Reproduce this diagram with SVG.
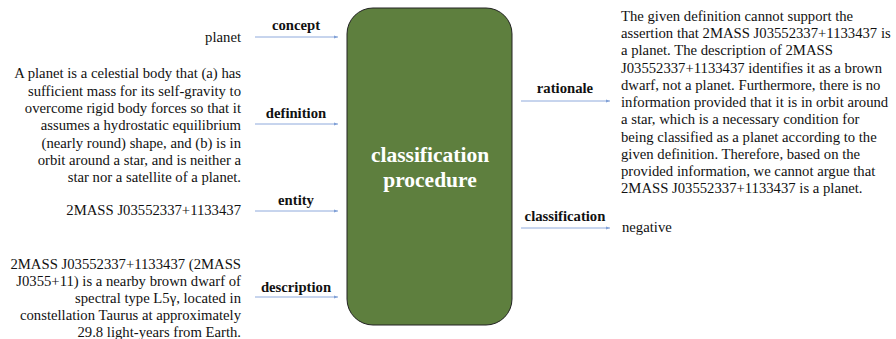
<svg xmlns="http://www.w3.org/2000/svg" width="896" height="339" viewBox="0 0 896 339" font-family="Liberation Serif, Times New Roman, serif">
<defs>
<marker id="ah" markerWidth="4" markerHeight="4" refX="4" refY="2" orient="auto" markerUnits="userSpaceOnUse">
<path d="M0,0.5 L4,2 L0,3.5 Z" fill="#7f9fd6"/>
</marker>
</defs>
<style>
.t{font-size:14.7px;fill:#111}
.r{text-anchor:end}
.lb{font-size:14.7px;font-weight:bold;fill:#111;text-anchor:middle}
.c{stroke:#8faadc;stroke-width:1;fill:none;marker-end:url(#ah)}
.ct{font-size:21.5px;font-weight:bold;fill:#fff;text-anchor:middle}
</style>
<rect width="896" height="339" fill="#fff"/>
<g id="procedure">
<rect x="347" y="8" width="165" height="317" rx="26" ry="26" fill="#5e7f3e" stroke="#222" stroke-width="1"/>
<text class="ct" x="430" y="162">classification</text>
<text class="ct" x="430" y="187">procedure</text>
</g>
<g id="concept">
<text class="t r" x="241" y="42">planet</text>
</g>
<g id="definition">
<text class="t r" x="241" y="78">A planet is a celestial body that (a) has</text>
<text class="t r" x="241" y="95.5">sufficient mass for its self-gravity to</text>
<text class="t r" x="241" y="113">overcome rigid body forces so that it</text>
<text class="t r" x="241" y="130">assumes a hydrostatic equilibrium</text>
<text class="t r" x="241" y="147.5">(nearly round) shape, and (b) is in</text>
<text class="t r" x="241" y="165">orbit around a star, and is neither a</text>
<text class="t r" x="241" y="182">star nor a satellite of a planet.</text>
</g>
<g id="entity">
<text class="t r" x="241" y="215">2MASS J03552337+1133437</text>
</g>
<g id="description">
<text class="t r" x="241" y="269">2MASS J03552337+1133437 (2MASS</text>
<text class="t r" x="241" y="286">J0355+11) is a nearby brown dwarf of</text>
<text class="t r" x="241" y="303">spectral type L5γ, located in</text>
<text class="t r" x="241" y="320">constellation Taurus at approximately</text>
<text class="t r" x="241" y="337">29.8 light-years from Earth.</text>
</g>
<g id="rationale">
<text class="t" x="621" y="21">The given definition cannot support the</text>
<text class="t" x="621" y="38">assertion that 2MASS J03552337+1133437 is</text>
<text class="t" x="621" y="55">a planet. The description of 2MASS</text>
<text class="t" x="621" y="73">J03552337+1133437 identifies it as a brown</text>
<text class="t" x="621" y="90">dwarf, not a planet. Furthermore, there is no</text>
<text class="t" x="621" y="107">information provided that it is in orbit around</text>
<text class="t" x="621" y="124">a star, which is a necessary condition for</text>
<text class="t" x="621" y="142">being classified as a planet according to the</text>
<text class="t" x="621" y="159">given definition. Therefore, based on the</text>
<text class="t" x="621" y="176">provided information, we cannot argue that</text>
<text class="t" x="621" y="193">2MASS J03552337+1133437 is a planet.</text>
</g>
<g id="classification">
<text class="t" x="622" y="232">negative</text>
</g>
<g id="connectors">
<line class="c" x1="255" y1="37" x2="338" y2="37"/>
<text class="lb" x="296" y="30">concept</text>
<line class="c" x1="255" y1="124" x2="338" y2="124"/>
<text class="lb" x="296" y="118">definition</text>
<line class="c" x1="255" y1="211" x2="338" y2="211"/>
<text class="lb" x="296" y="205">entity</text>
<line class="c" x1="255" y1="297" x2="338" y2="297"/>
<text class="lb" x="296" y="292">description</text>
<line class="c" x1="521" y1="101" x2="610" y2="101"/>
<text class="lb" x="565" y="93">rationale</text>
<line class="c" x1="521" y1="228" x2="610" y2="228"/>
<text class="lb" x="565" y="221">classification</text>
</g>
</svg>
